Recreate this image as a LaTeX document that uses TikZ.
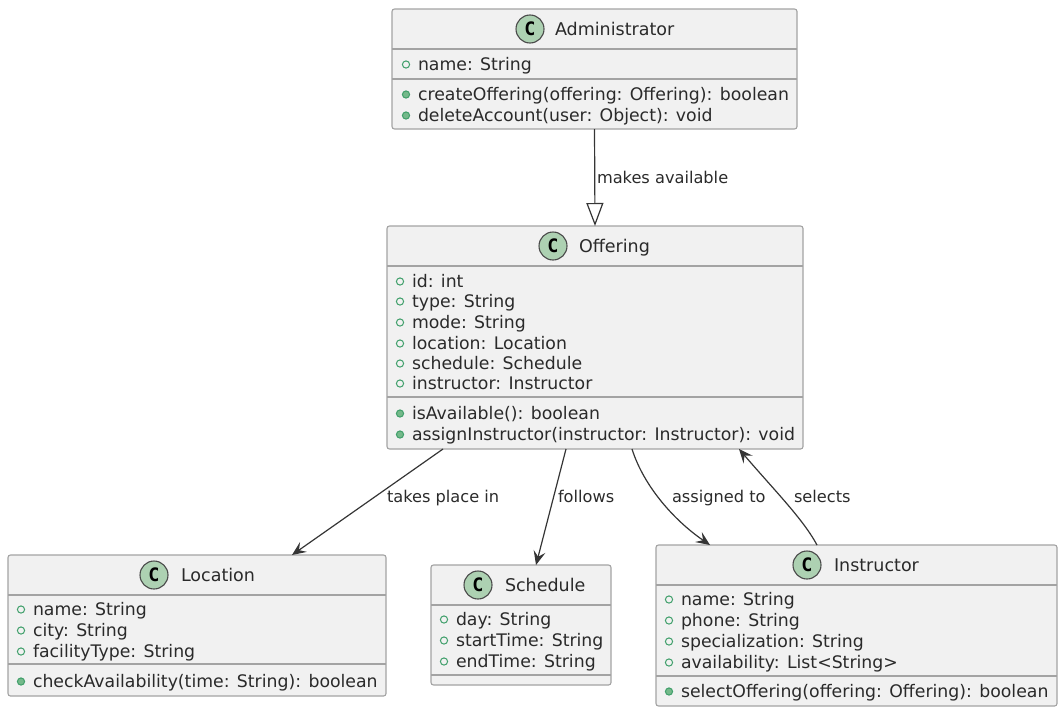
\documentclass[tikz,border=0pt]{standalone}
\usepackage{fontspec}
\setmainfont{DejaVu Sans}
\newfontfamily\badgefont{DejaVu Sans Mono}
\usetikzlibrary{arrows.meta,calc}
\definecolor{boxfill}{HTML}{F1F1F1}
\definecolor{boxline}{HTML}{A3A3A3}
\definecolor{inkc}{HTML}{2A2A2A}
\definecolor{badge}{HTML}{ADD1B2}
\definecolor{vis}{HTML}{3F9F6A}
\definecolor{visfill}{HTML}{74B98A}
\tikzset{
  x=1pt,y=-1pt,
  classbox/.style={draw=boxline,fill=boxfill,line width=1.1pt,rounded corners=2.5pt,inner sep=0,outer sep=0},
  divider/.style={draw=boxline,line width=1.1pt},
  txt/.style={anchor=base west,inner sep=0,outer sep=0,text=inkc,font=\fontsize{17.3}{20}\selectfont},
  titletxt/.style={txt,font=\fontsize{17.5}{20}\selectfont},
  labeltxt/.style={txt,font=\fontsize{16.2}{20}\selectfont},
  badgec/.style={circle,draw=inkc!85,fill=badge,line width=1.1pt,minimum size=28pt,inner sep=0,outer sep=0,font=\badgefont\bfseries\fontsize{18.5}{20}\selectfont,text=black},
  link/.style={draw=inkc!95,line width=1.2pt},
  open arrow/.style={-{Stealth[length=14pt,width=12pt,inset=5.5pt]}},
  hollow arrow/.style={-{Triangle[open,fill=white,length=23pt,width=17pt]}},
  attrdot/.style={draw=vis,line width=1.0pt},
  opdot/.style={draw=vis,fill=visfill,line width=1.0pt},
}
% name, x of text, baseline y, text
\newcommand{\attrrow}[4]{\draw[attrdot] (#2-12,#3-5.5) circle[radius=3.6];\node[txt] (#1) at (#2,#3) {#4};}
\newcommand{\oprow}[4]{\draw[opdot] (#2-12,#3-5.5) circle[radius=3.6];\node[txt] (#1) at (#2,#3) {#4};}
\newcommand{\sepline}[2]{\draw[divider] (#1.west |- 0,#2) -- (#1.east |- 0,#2);}
\begin{document}
\begin{tikzpicture}
\useasboundingbox (0,0) rectangle (1062,712);

% Administrator
\node[classbox,minimum width=405,minimum height=120] (admin) at (594.5,69) {};
\sepline{admin}{49}\sepline{admin}{79}
\node[badgec] (adminC) at (530,29) {C};
\node[titletxt] (adminT) at (555,35) {Administrator};
\attrrow{adminA}{418}{70}{name: String}
\oprow{adminM}{418}{100}{createOffering(offering: Offering): boolean}
\oprow{adminN}{418}{121}{deleteAccount(user: Object): void}

% Offering
\node[classbox,minimum width=416,minimum height=223] (off) at (595,337.5) {};
\sepline{off}{266}\sepline{off}{397}
\node[badgec] (offC) at (553,246) {C};
\node[titletxt] (offT) at (579,252) {Offering};
\attrrow{offA}{412}{287}{id: int}
\attrrow{offB}{412}{307}{type: String}
\attrrow{offD}{412}{328}{mode: String}
\attrrow{offE}{412}{349}{location: Location}
\attrrow{offF}{412}{369}{schedule: Schedule}
\attrrow{offG}{412}{389}{instructor: Instructor}
\oprow{offM}{412}{419}{isAvailable(): boolean}
\oprow{offN}{412}{440}{assignInstructor(instructor: Instructor): void}

% Location
\node[classbox,minimum width=378,minimum height=141] (loc) at (197,625.5) {};
\sepline{loc}{595}\sepline{loc}{664}
\node[badgec] (locC) at (154,575) {C};
\node[titletxt] (locT) at (181,581) {Location};
\attrrow{locA}{33}{615}{name: String}
\attrrow{locB}{33}{636}{city: String}
\attrrow{locD}{33}{657}{facilityType: String}
\oprow{locM}{33}{687}{checkAvailability(time: String): boolean}

% Schedule
\node[classbox,minimum width=180,minimum height=120] (sch) at (521,625) {};
\sepline{sch}{605}\sepline{sch}{675}
\node[badgec] (schC) at (478,585) {C};
\node[titletxt] (schT) at (505,591) {Schedule};
\attrrow{schA}{456}{625}{day: String}
\attrrow{schB}{456}{646}{startTime: String}
\attrrow{schD}{456}{667}{endTime: String}

% Instructor
\node[classbox,minimum width=401,minimum height=161] (ins) at (856.5,625.5) {};
\sepline{ins}{585}\sepline{ins}{676}
\node[badgec] (insC) at (807,565) {C};
\node[titletxt] (insT) at (834,571) {Instructor};
\attrrow{insA}{681}{605}{name: String}
\attrrow{insB}{681}{626}{phone: String}
\attrrow{insD}{681}{647}{specialization: String}
\attrrow{insE}{681}{668}{availability: List<String>}
\oprow{insM}{681}{697}{selectOffering(offering: Offering): boolean}

% Connectors
\draw[link,hollow arrow] (admin.south) -- (off.north);
\draw[link,open arrow] ([xshift=-152pt]off.south) -- ([xshift=95pt]loc.north);
\draw[link,open arrow] ([xshift=-29pt]off.south) -- ([xshift=15pt]sch.north);
\draw[link,open arrow] ([xshift=37pt]off.south) .. controls +(12,38) and +(-35,-24) .. ([xshift=-146.5pt]ins.north);
\draw[link,open arrow] ([xshift=-39.5pt]ins.north) .. controls +(-14,-26) and +(36,42) .. ([xshift=144pt]off.south);

% Connector labels
\node[labeltxt] (l1) at (597,183) {makes available};
\node[labeltxt] (l2) at (387,502) {takes place in};
\node[labeltxt] (l3) at (558,502) {follows};
\node[labeltxt] (l4) at (672,502) {assigned to};
\node[labeltxt] (l5) at (794,502) {selects};
\end{tikzpicture}
\end{document}
